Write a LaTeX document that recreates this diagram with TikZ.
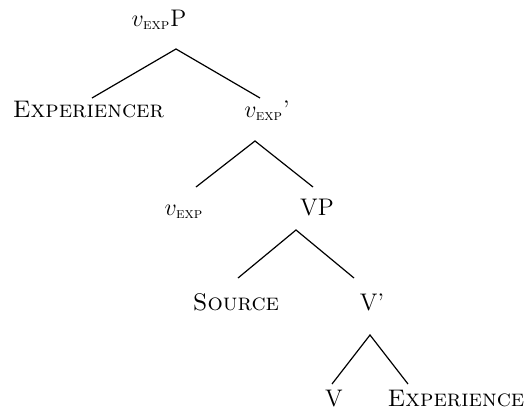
\documentclass[tikz,border=0pt]{standalone}
\usetikzlibrary{positioning}
\newcommand{\expsub}{\mbox{\fontsize{7.6}{9}\selectfont\textsc{exp}}}
\begin{document}
\begin{tikzpicture}[x=0.5pt, y=-0.5pt]
\tikzset{treelabel/.style={anchor=base, inner sep=0pt, font=\fontsize{12}{14}\selectfont}, branch/.style={line width=0.6pt, black}}
\useasboundingbox (0,0) rectangle (525,413);
\node[treelabel] (vexpP) at (159,26) {$v_{\expsub}$P};
\node[treelabel] (experiencer) at (88.5,117) {\textsc{Experiencer}};
\node[treelabel] (vexpbar) at (267,117) {$v_{\expsub}$'};
\node[treelabel] (vexp) at (184,215) {$v_{\expsub}$};
\node[treelabel] (vp) at (317,215) {VP};
\node[treelabel] (source) at (236,310) {\textsc{Source}};
\node[treelabel] (vbar) at (372,310) {V'};
\node[treelabel] (v) at (334,406) {V};
\node[treelabel] (experience) at (456,406) {\textsc{Experience}};
\coordinate (vexpP-top) at (176,49);
\coordinate (experiencer-end) at (92,98);
\coordinate (vexpbar-end) at (260,98);
\coordinate (vexpbar-top) at (255,141);
\coordinate (vexp-end) at (196,187);
\coordinate (vp-end) at (313,187);
\coordinate (vp-top) at (296,230);
\coordinate (source-end) at (238,278);
\coordinate (vbar-end) at (354,278);
\coordinate (vbar-top) at (370,335);
\coordinate (v-end) at (332,384);
\coordinate (experience-end) at (408,384);
\draw[branch] (experiencer-end) -- (vexpP-top) -- (vexpbar-end);
\draw[branch] (vexp-end) -- (vexpbar-top) -- (vp-end);
\draw[branch] (source-end) -- (vp-top) -- (vbar-end);
\draw[branch] (v-end) -- (vbar-top) -- (experience-end);
\end{tikzpicture}
\end{document}
